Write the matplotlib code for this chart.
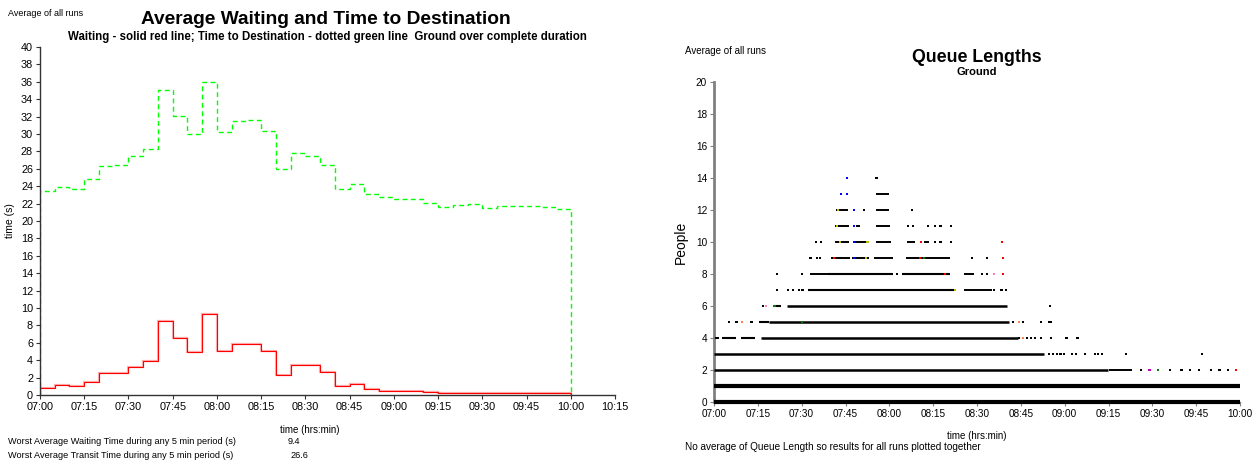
import matplotlib
matplotlib.use("Agg")
import matplotlib.pyplot as plt
import numpy as np

plt.rcParams['font.family'] = ['Liberation Sans', 'DejaVu Sans']

# ---------------- Left chart data (5-minute periods from 07:00) ----------------
period_edges_min = list(range(0, 185, 5))  # 07:00 .. 10:00 in minutes after 07:00
waiting = [0.8, 1.1, 1.0, 1.5, 2.5, 2.5, 3.2, 3.9, 8.5, 6.5, 5.0, 9.3,
           5.1, 5.9, 5.9, 5.1, 2.3, 3.4, 3.4, 2.6, 1.0, 1.3, 0.7, 0.5,
           0.5, 0.45, 0.35, 0.25, 0.2, 0.2, 0.2, 0.2, 0.2, 0.2, 0.2, 0.2]
destination = [23.4, 23.9, 23.7, 24.8, 26.3, 26.4, 27.5, 28.3, 35.1, 32.1, 30.0, 36.0,
               30.2, 31.5, 31.6, 30.4, 26.0, 27.8, 27.5, 26.4, 23.7, 24.2, 23.1, 22.8,
               22.5, 22.5, 22.1, 21.6, 21.85, 21.9, 21.55, 21.7, 21.75, 21.75, 21.6, 21.4]
left_xticks = list(range(0, 196, 15))
left_xlabels = ["07:00", "07:15", "07:30", "07:45", "08:00", "08:15", "08:30",
                "08:45", "09:00", "09:15", "09:30", "09:45", "10:00", "10:15"]
left_yticks = list(range(0, 41, 2))
worst_waiting = 9.4
worst_transit = 26.6

# ---------------- Right chart data (queue lengths, all runs) ----------------
right_xticks = list(range(0, 181, 15))
right_xlabels = left_xlabels[:13]
right_yticks = list(range(0, 21, 2))
# dense runs of observations: (people, start_min, end_min)
dense_level = [0, 1, 2, 3, 4, 4, 4, 5, 5, 6, 6, 7, 7, 8, 8, 8, 8,
               9, 9, 9, 9, 10, 10, 10, 10, 10, 11, 11, 12, 12, 13, 2]
dense_start = [0, 0, 0, 0, 2.7, 9.4, 16, 15.5, 18.9, 20.2, 24.9, 32.3, 85.6, 32.7, 39, 64.4, 85.6,
               40.2, 47.2, 54.9, 65.8, 41.4, 47.6, 55.3, 66, 71.7, 41.4, 55.3, 41.8, 55.3, 55.3, 135]
dense_end = [180, 180, 134.8, 113, 7.4, 14.2, 104, 18.9, 101, 22.9, 100.4, 82.2, 95, 39, 61.3, 80.9, 89,
             46.5, 53.2, 61.3, 80.9, 46.1, 52.6, 60.6, 68.7, 73.5, 46.1, 60.2, 45.8, 60, 60, 143]
dense_width = [3.0, 3.0, 1.8, 1.8, 1.5, 1.5, 1.8, 1.5, 1.8, 1.5, 1.8, 1.5, 1.4, 1.4, 1.5, 1.5, 1.4,
               1.4, 1.4, 1.4, 1.4, 1.4, 1.4, 1.4, 1.4, 1.4, 1.4, 1.4, 1.4, 1.4, 1.4, 1.4]
# isolated observations: (minute, people, colour)
pt_min = [146, 149, 152, 156, 160, 163, 166, 170, 173, 176, 178.5,
          114.6, 115.9, 117.3, 118.6, 119.9, 122.6, 124, 127, 130.5, 131.4, 132.7, 141.1, 167.1,
          0.7, 1.3, 104.4, 105.8, 107, 108.5, 109.8, 111.9, 115.2, 120.6, 124.4,
          5.1, 7.7, 9.7, 12.8, 102.4, 104.4, 105.8, 111.9, 114.6, 115.2,
          16.8, 17.9, 115,
          21.6, 25.3, 27, 29, 30.3, 95.7, 98.4, 100,
          21.6, 30, 62.7, 91.6, 93.3, 95.7, 99,
          33, 35.3, 36.4, 88.3, 93.3, 99,
          35, 36.7, 70.8, 75.5, 77.5, 81.1, 98.6,
          47.8, 48.9, 66.4, 68.1, 73.2, 75.5, 77.5, 81.1,
          47.8, 51.2, 67.7,
          43.5, 45.4,
          45.6, 55.6]
pt_level = [2, 2, 2, 2, 2, 2, 2, 2, 2, 2, 2,
            3, 3, 3, 3, 3, 3, 3, 3, 3, 3, 3, 3, 3,
            4, 4, 4, 4, 4, 4, 4, 4, 4, 4, 4,
            5, 5, 5, 5, 5, 5, 5, 5, 5, 5,
            6, 6, 6,
            7, 7, 7, 7, 7, 7, 7, 7,
            8, 8, 8, 8, 8, 8, 8,
            9, 9, 9, 9, 9, 9,
            10, 10, 10, 10, 10, 10, 10,
            11, 11, 11, 11, 11, 11, 11, 11,
            12, 12, 12,
            13, 13,
            14, 14]
pt_color = ['k', 'm', 'g', 'k', 'k', 'k', 'k', 'k', 'k', 'k', 'r',
            'k', 'k', 'k', 'k', 'k', 'k', 'k', 'k', 'k', 'k', 'k', 'k', 'k',
            'k', 'k', 'k', '#ff8040', 'k', 'k', 'k', 'k', 'k', 'k', 'k',
            'k', 'k', '#ff8040', 'k', 'k', '#ff8040', 'k', 'k', 'k', 'k',
            'k', '#ff80c0', 'k',
            'k', 'k', 'k', 'k', 'k', 'k', 'k', 'k',
            'k', 'k', 'k', 'k', 'k', '#ff80c0', 'r',
            'k', 'k', 'k', 'k', 'k', 'r',
            'k', 'k', 'r', 'k', 'k', 'k', 'r',
            'k', 'k', 'k', 'k', 'k', 'k', 'k', 'k',
            'b', 'k', 'k',
            'b', 'b',
            'b', 'k']
# coloured highlights inside dense runs: (minute, people, colour)
hl_min = [42.5, 47.8, 42, 47.8, 49.5, 43, 47.8, 52.5, 41, 47.8, 52, 21, 20.5, 30, 79, 70.5, 72, 82.5]
hl_level = [12, 12, 11, 11, 11, 10, 10, 10, 9, 9, 9, 6, 6, 5, 8, 9, 9, 7]
hl_color = ['y', 'b', 'y', 'b', 'k', 'y', 'b', 'y', 'r', 'b', 'y', 'g', 'g', 'g', 'r', 'r', 'g', 'y']

fig = plt.figure(figsize=(12.56, 4.63), dpi=100)

# ============================ LEFT CHART ============================
axL = fig.add_axes([40 / 1256, (463 - 395) / 463, (615 - 40) / 1256, (395 - 47) / 463])
axL.stairs(destination, period_edges_min, baseline=0, color='#00ff00', lw=1.0,
           linestyle=(0, (3.5, 2.5)))
axL.stairs(waiting, period_edges_min, baseline=0, color='#ffb0b0', lw=1.6)
axL.stairs(waiting, period_edges_min, baseline=0, color='#ff0000', lw=0.8)
axL.set_xlim(0, 195)
axL.set_ylim(0, 40)
axL.set_xticks(left_xticks)
axL.set_xticklabels(left_xlabels)
axL.set_yticks(left_yticks)
for s in ['top', 'right']:
    axL.spines[s].set_visible(False)
for s in ['left', 'bottom']:
    axL.spines[s].set_color('#333333')
    axL.spines[s].set_linewidth(1.0)
axL.tick_params(axis='both', labelsize=7.8, length=3, width=0.8, color='#333333', pad=2)
axL.set_ylabel('time (s)', fontsize=7.5, labelpad=4)
axL.set_xlabel('time (hrs:min)', fontsize=7, labelpad=7)
axL.xaxis.set_label_coords((310 - 40) / (615 - 40), -0.085)

fig.text(8 / 1256, 1 - 14 / 463, 'Average of all runs', fontsize=6.5, va='center', ha='left')
fig.text(326 / 1256, 1 - 19 / 463, 'Average Waiting and Time to Destination', fontsize=13.8,
         fontweight='bold', va='center', ha='center')
fig.text(327 / 1256, 1 - 37 / 463,
         'Waiting - solid red line; Time to Destination - dotted green line  Ground over complete duration',
         fontsize=8.3, fontweight='bold', va='center', ha='center')
fig.text(8 / 1256, 1 - 441 / 463, 'Worst Average Waiting Time during any 5 min period (s)',
         fontsize=6.6, va='center', ha='left')
fig.text(288 / 1256, 1 - 441 / 463, f'{worst_waiting}', fontsize=6.6, va='center', ha='left')
fig.text(8 / 1256, 1 - 455 / 463, 'Worst Average Transit Time during any 5 min period (s)',
         fontsize=6.6, va='center', ha='left')
fig.text(290 / 1256, 1 - 455 / 463, f'{worst_transit}', fontsize=6.6, va='center', ha='left')

# ============================ RIGHT CHART ============================
axR = fig.add_axes([714 / 1256, (463 - 402) / 463, (1240 - 714) / 1256, (402 - 82) / 463])
for lev, s0, s1, w in zip(dense_level, dense_start, dense_end, dense_width):
    axR.hlines(lev, s0, s1, colors='black', lw=w, clip_on=False, zorder=3)
axR.scatter(pt_min, pt_level, s=2.5, c=pt_color, marker='s', linewidths=0, clip_on=False, zorder=4)
axR.scatter(hl_min, hl_level, s=2.5, c=hl_color, marker='s', linewidths=0, clip_on=False, zorder=5)
axR.set_xlim(0, 180)
axR.set_ylim(0, 20)
axR.set_xticks(right_xticks)
axR.set_xticklabels(right_xlabels)
axR.set_yticks(right_yticks)
for s in ['top', 'right']:
    axR.spines[s].set_visible(False)
axR.spines['left'].set_color('#808080')
axR.spines['left'].set_linewidth(2.0)
axR.spines['bottom'].set_color('#808080')
axR.spines['bottom'].set_linewidth(1.0)
axR.tick_params(axis='both', labelsize=7.2, length=3, width=0.8, color='#808080', pad=2)
axR.set_ylabel('People', fontsize=10, labelpad=6)
axR.set_xlabel('time (hrs:min)', fontsize=7, labelpad=9)

fig.text(685 / 1256, 1 - 51 / 463, 'Average of all runs', fontsize=7, va='center', ha='left')
fig.text(977 / 1256, 1 - 57 / 463, 'Queue Lengths', fontsize=12.8, fontweight='bold',
         va='center', ha='center')
fig.text(977 / 1256, 1 - 72 / 463, 'Ground', fontsize=8, fontweight='bold',
         va='center', ha='center')
fig.text(685 / 1256, 1 - 447 / 463, 'No average of Queue Length so results for all runs plotted together',
         fontsize=7.2, va='center', ha='left')

fig.savefig('out.png', dpi=100)
